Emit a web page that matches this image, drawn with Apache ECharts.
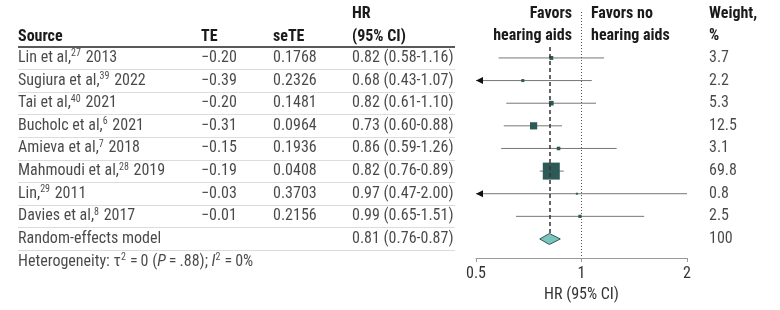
<!DOCTYPE html>
<html lang="en">
<head>
    <meta charset="UTF-8">
    <title>Hearing aids forest plot</title>
    <style>
        html, body { margin: 0; padding: 0; background: #fff; }
    </style>
</head>
<body>
    <div id="chart" style="width:780px; height:310px"></div>

    <script src="https://cdn.jsdelivr.net/npm/echarts@6/dist/echarts.min.js"></script>
    <script>
        // data
        const sources = ['Lin et al,', 'Sugiura et al,', 'Tai et al,', 'Bucholc et al,', 'Amieva et al,', 'Mahmoudi et al,', 'Lin,', 'Davies et al,'];
        const refs = ['27', '39', '40', '6', '7', '28', '29', '8'];
        const years = ['2013', '2022', '2021', '2021', '2018', '2019', '2011', '2017'];
        const te = [-0.20, -0.39, -0.20, -0.31, -0.15, -0.19, -0.03, -0.01];
        const seTE = ['0.1768', '0.2326', '0.1481', '0.0964', '0.1936', '0.0408', '0.3703', '0.2156'];
        const hr = [0.82, 0.68, 0.82, 0.73, 0.86, 0.82, 0.97, 0.99];
        const lower = [0.58, 0.43, 0.61, 0.60, 0.59, 0.76, 0.47, 0.65];
        const upper = [1.16, 1.07, 1.10, 0.88, 1.26, 0.89, 2.00, 1.51];
        const weight = [3.7, 2.2, 5.3, 12.5, 3.1, 69.8, 0.8, 2.5];

        const pooled = { label: 'Random-effects model', hr: 0.81, lower: 0.76, upper: 0.87, weight: 100 };
        const xTicks = [0.5, 1, 2];

        const FONT = "'Liberation Sans Narrow', 'Roboto Condensed', Roboto, sans-serif";
        const FS = 16;
        const TXT = '#1a1a1a';
        const DARK = '#2d5a57';

        // rows: 0..7 studies, 8 pooled, 9 heterogeneity note
        const yMin = -2.03, yMax = 8.84;
        const xMin = xTicks[0], xMax = xTicks[xTicks.length - 1];

        const fmt2 = v => v.toFixed(2);
        const ciText = (h, l, u) => `${fmt2(h)} (${fmt2(l)}-${fmt2(u)})`;

        // table columns (pixel x in grid 1)
        const col = { source: 18, te: 201, se: 273, hr: 352, w: 709 };

        const tableCells = [];
        sources.forEach((s, i) => {
            tableCells.push({ value: [col.source, i], text: `${s}{sup|${refs[i]}} ${years[i]}` });
            tableCells.push({ value: [col.te, i], text: fmt2(te[i]).replace('-', '\u2212') });
            tableCells.push({ value: [col.se, i], text: seTE[i] });
            tableCells.push({ value: [col.hr, i], text: ciText(hr[i], lower[i], upper[i]) });
            tableCells.push({ value: [col.w, i], text: String(weight[i]) });
        });
        tableCells.push({ value: [col.source, 8], text: pooled.label });
        tableCells.push({ value: [col.hr, 8], text: ciText(pooled.hr, pooled.lower, pooled.upper) });
        tableCells.push({ value: [col.w, 8], text: String(pooled.weight) });
        tableCells.push({ value: [col.source, 9], text: 'Heterogeneity: \u03c4{sup|2}\u2009=\u20090 ({i|P}\u2009=\u2009.88); {i|I}{sup|2}\u2009=\u20090%' });

        const separators = [];
        for (let r = 0; r <= 8; r++) {
            separators.push([{ coord: [col.source, r + 0.5] }, { coord: [455, r + 0.5] }]);
        }

        const studyData = sources.map((s, i) => [hr[i], i, lower[i], upper[i], weight[i]]);
        const maxW = Math.max(...weight);

        const chart = echarts.init(document.getElementById('chart'));

        const headerText = (x, y, text, align) => ({
            type: 'text', x: x, y: y,
            style: { text: text, fill: TXT, font: `bold ${FS}px ${FONT}`, align: align || 'left', verticalAlign: 'middle' }
        });

        chart.setOption({
            animation: false,
            textStyle: { fontFamily: FONT },
            grid: [
                { left: 476, width: 211, top: 12, height: 246, containLabel: false },
                { left: 0, width: 780, top: 12, height: 246, containLabel: false }
            ],
            xAxis: [{
                gridIndex: 0, type: 'log', logBase: 2, min: xMin, max: xMax, position: 'bottom',
                axisLine: { show: true, onZero: false, lineStyle: { color: '#9a9a9a', width: 1 } },
                axisTick: { show: true, length: 4, lineStyle: { color: '#9a9a9a' } },
                axisLabel: { color: '#333', fontSize: FS, fontFamily: FONT, margin: 8 },
                splitLine: { show: false },
                name: 'HR (95% CI)', nameLocation: 'middle', nameGap: 29,
                nameTextStyle: { color: '#333', fontSize: FS, fontFamily: FONT }
            }, {
                gridIndex: 1, type: 'value', min: 0, max: 780, show: false
            }],
            yAxis: [
                { gridIndex: 0, type: 'value', min: yMin, max: yMax, inverse: true, show: false },
                { gridIndex: 1, type: 'value', min: yMin, max: yMax, inverse: true, show: false }
            ],
            graphic: [
                headerText(col.source, 37, 'Source'),
                headerText(col.te, 37, 'TE'),
                headerText(col.se, 37, 'seTE'),
                headerText(col.hr, 14, 'HR'),
                headerText(col.hr, 37, '(95% CI)'),
                headerText(572, 14, 'Favors', 'right'),
                headerText(572, 36, 'hearing aids', 'right'),
                headerText(591, 14, 'Favors no'),
                headerText(591, 36, 'hearing aids'),
                headerText(col.w, 14, 'Weight,'),
                headerText(col.w, 36, '%'),
                {
                    type: 'line', shape: { x1: col.source, y1: 47, x2: 455, y2: 47 },
                    style: { stroke: '#222', lineWidth: 1.5 }
                }
            ],
            series: [{
                // table text
                type: 'scatter', xAxisIndex: 1, yAxisIndex: 1, symbolSize: 0, silent: true,
                clip: false,
                data: tableCells.map(c => ({ value: c.value, label: { formatter: c.text } })),
                label: {
                    show: true, position: 'right', distance: 0,
                    color: TXT, fontSize: FS, fontFamily: FONT, lineHeight: 18,
                    rich: {
                        sup: { fontSize: 10, verticalAlign: 'top', lineHeight: 12, padding: [0, 1, 0, 0], color: TXT, fontFamily: FONT },
                        i: { fontStyle: 'italic', fontSize: FS, color: TXT, fontFamily: FONT }
                    }
                },
                markLine: {
                    silent: true, symbol: 'none', label: { show: false },
                    lineStyle: { color: '#dcdcdc', width: 1, type: 'solid' },
                    data: separators
                }
            }, {
                // reference line at HR = 1
                type: 'scatter', xAxisIndex: 0, yAxisIndex: 0, data: [], silent: true,
                markLine: {
                    silent: true, symbol: 'none', label: { show: false },
                    lineStyle: { color: '#555', width: 1, type: [1, 2] },
                    data: [[{ coord: [1, yMin] }, { coord: [1, yMax] }]]
                }
            }, {
                // pooled estimate line
                type: 'scatter', xAxisIndex: 0, yAxisIndex: 0, data: [], silent: true,
                markLine: {
                    silent: true, symbol: 'none', label: { show: false },
                    lineStyle: { color: '#333', width: 1.5, type: [4, 3] },
                    data: [[{ coord: [pooled.hr, -0.486] }, { coord: [pooled.hr, 7.8] }]]
                }
            }, {
                // studies: CI whiskers and weighted squares
                type: 'custom', xAxisIndex: 0, yAxisIndex: 0, silent: true, clip: false,
                data: studyData,
                encode: { x: 0, y: 1 },
                renderItem: (params, api) => {
                    const h = api.value(0), row = api.value(1), l = api.value(2), u = api.value(3), w = api.value(4);
                    const p0 = api.coord([Math.max(l, xMin), row]);
                    const p1 = api.coord([Math.min(u, xMax), row]);
                    const c = api.coord([h, row]);
                    const side = Math.max(2, 17 * Math.sqrt(w / maxW));
                    const children = [{
                        type: 'line',
                        shape: { x1: p0[0], y1: p0[1], x2: p1[0], y2: p1[1] },
                        style: { stroke: '#767676', lineWidth: 1 }
                    }];
                    if (l < xMin) {
                        children.push({
                            type: 'polygon',
                            shape: { points: [[p0[0], p0[1]], [p0[0] + 7, p0[1] - 3.5], [p0[0] + 7, p0[1] + 3.5]] },
                            style: { fill: '#111' }
                        });
                    }
                    if (u > xMax) {
                        children.push({
                            type: 'polygon',
                            shape: { points: [[p1[0], p1[1]], [p1[0] - 7, p1[1] - 3.5], [p1[0] - 7, p1[1] + 3.5]] },
                            style: { fill: '#111' }
                        });
                    }
                    children.push({
                        type: 'rect',
                        shape: { x: c[0] - side / 2, y: c[1] - side / 2, width: side, height: side },
                        style: { fill: DARK }
                    });
                    return { type: 'group', children: children };
                }
            }, {
                // pooled diamond
                type: 'custom', xAxisIndex: 0, yAxisIndex: 0, silent: true, clip: false,
                data: [[pooled.hr, 8, pooled.lower, pooled.upper]],
                encode: { x: 0, y: 1 },
                renderItem: (params, api) => {
                    const row = api.value(1);
                    const c = api.coord([api.value(0), row]);
                    const l = api.coord([api.value(2), row]);
                    const u = api.coord([api.value(3), row]);
                    return {
                        type: 'polygon',
                        shape: { points: [[l[0], c[1]], [c[0], c[1] - 5.5], [u[0], c[1]], [c[0], c[1] + 5.5]] },
                        style: { fill: '#7cc3bd', stroke: DARK, lineWidth: 1 }
                    };
                }
            }]
        });
    </script>
</body>
</html>
